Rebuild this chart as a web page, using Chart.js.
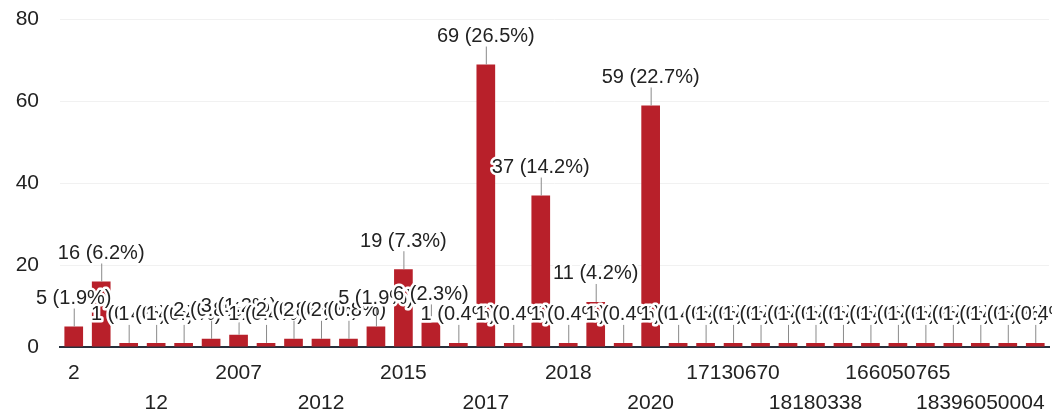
<!DOCTYPE html>
<html>
<head>
<meta charset="utf-8">
<script src="https://cdn.jsdelivr.net/npm/chart.js@4.4.0/dist/chart.umd.min.js"></script>
<style>
  html, body { margin: 0; padding: 0; background: #fff; }
</style>
</head>
<body>
<canvas id="barRespuestas" width="1052" height="419"></canvas>
<script>
// categorias (solo se leen las que muestra el eje, las demas quedan vacias)
var categories = ['2', '', '', '12', '', '', '2007', '', '', '2012', '', '',
    '2015', '', '', '2017', '', '', '2018', '', '', '2020', '', '',
    '17130670', '', '', '18180338', '', '', '166050765', '', '', '18396050004', '', ''];
var counts = [5, 16, 1, 1, 1, 2, 3, 1, 2, 2, 2, 5,
    19, 6, 1, 69, 1, 37, 1, 11, 1, 59, 1, 1,
    1, 1, 1, 1, 1, 1, 1, 1, 1, 1, 1, 1];
var yTicks = [0, 20, 40, 60, 80];

var total = counts.reduce(function (a, b) { return a + b; }, 0);

// etiquetas "n (p%)" con linea hacia la barra
const etiquetas = {
    id: 'etiquetas',
    afterDatasetsDraw(chart) {
        const ctx = chart.ctx;
        const meta = chart.getDatasetMeta(0);
        ctx.save();
        ctx.font = '20px "Liberation Sans", Arial, sans-serif';
        ctx.textAlign = 'center';
        ctx.textBaseline = 'middle';
        ctx.lineJoin = 'round';
        meta.data.forEach(function (bar, i) {
            const v = counts[i];
            const txt = v + ' (' + (v / total * 100).toFixed(1) + '%)';
            const ly = Math.min(bar.y - 28, bar.base - 31);
            ctx.strokeStyle = '#8a8a8a';
            ctx.lineWidth = 1;
            ctx.beginPath();
            ctx.moveTo(bar.x + 0.5, ly + 10);
            ctx.lineTo(bar.x + 0.5, bar.y);
            ctx.stroke();
            ctx.strokeStyle = '#fff';
            ctx.lineWidth = 5;
            ctx.strokeText(txt, bar.x, ly);
            ctx.fillStyle = '#222';
            ctx.fillText(txt, bar.x, ly);
        });
        ctx.restore();
    }
};

const barRespuestas = new Chart('barRespuestas', {
    type: 'bar',
    data: {
        labels: categories,
        datasets: [{
            data: counts,
            backgroundColor: '#b8202a',
            barPercentage: 0.68,
            categoryPercentage: 1
        }]
    },
    options: {
        responsive: false,
        animation: false,
        devicePixelRatio: 1,
        layout: { padding: { top: 0, right: 3, left: 0, bottom: 0 } },
        plugins: {
            legend: { display: false },
            tooltip: { enabled: false }
        },
        scales: {
            x: {
                afterFit: function (scale) { scale.height = 72; },
                grid: { display: false, drawTicks: false },
                border: { display: true, color: '#26303c', width: 2 },
                ticks: {
                    autoSkip: false,
                    maxRotation: 0,
                    padding: 12,
                    color: '#222',
                    font: { family: '"Liberation Sans", Arial, sans-serif', size: 21, lineHeight: 1.4 },
                    callback: function (val, i) {
                        const l = categories[i];
                        if (!l) return '';
                        return i % 6 === 0 ? l : ['', l];
                    }
                }
            },
            y: {
                min: 0,
                max: 80,
                afterBuildTicks: function (scale) {
                    scale.ticks = yTicks.map(function (v) { return { value: v }; });
                },
                afterFit: function (scale) {
                    scale.width = 60;
                    scale.paddingTop = 19.5;
                    scale.paddingBottom = 0;
                },
                grid: {
                    drawTicks: false,
                    color: function (c) { return c.tick.value === 0 ? 'rgba(0,0,0,0)' : '#f1f1f1'; }
                },
                border: { display: false },
                ticks: {
                    padding: 21,
                    color: '#222',
                    font: { family: '"Liberation Sans", Arial, sans-serif', size: 21 }
                }
            }
        }
    },
    plugins: [etiquetas]
});
</script>
</body>
</html>
